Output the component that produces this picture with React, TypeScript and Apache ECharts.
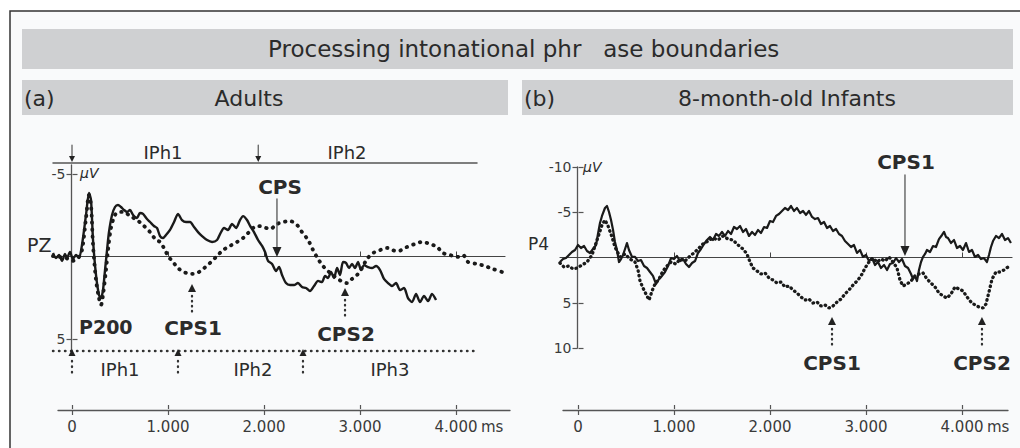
import React, { useEffect, useRef } from "react";
import * as echarts from "echarts";

// ---------------- data ----------------
const timeTicks = [0, 1000, 2000, 3000, 4000];
const timeTickLabels = ["0", "1.000", "2.000", "3.000", "4.000"];
const zeroLineTicks = [1000, 2000, 3000, 4000];
const adultsVoltTicks = [-5, 5];
const infantsVoltTicks = [-10, -5, 5, 10];

// [ms, µV]  (negative up)
const adultsSolid: [number, number][] = [
  [-198, -0.21], [-167, 0.09], [-135, -0.09], [-104, 0.27], [-73, -0.15], [-52, 0.09], [-21, -0.27],
  [10, 0.15], [42, -0.09], [73, 0.09], [104, -0.7], [146, -2.52], [177, -3.85], [198, -3.42],
  [219, -1.0], [250, 1.12], [281, 2.33], [302, 2.52], [323, 2.03], [344, 0.82], [365, -0.39],
  [385, -1.48], [417, -2.52], [448, -3.0], [479, -3.12], [510, -3.0], [542, -2.82], [573, -2.7],
  [604, -2.82], [636, -2.52], [677, -2.33], [708, -2.64], [740, -2.58], [781, -2.27], [813, -2.09],
  [854, -1.85], [885, -1.73], [917, -1.24], [948, -1.12], [979, -1.3], [1021, -1.61], [1063, -2.09],
  [1104, -2.58], [1146, -2.21], [1188, -2.09], [1230, -2.09], [1271, -1.79], [1313, -1.48],
  [1355, -1.24], [1407, -1.0], [1459, -0.88], [1511, -1.0], [1542, -1.36], [1584, -1.73],
  [1625, -1.61], [1667, -1.97], [1709, -1.73], [1750, -2.21], [1782, -2.45], [1823, -2.21],
  [1855, -1.85], [1896, -1.48], [1938, -1.0], [1980, -0.64], [2011, -0.27], [2042, 0.27],
  [2084, 0.45], [2125, 0.88], [2157, 0.64], [2188, 1.12], [2229, 1.61], [2271, 1.73], [2313, 1.73],
  [2354, 1.61], [2396, 1.85], [2438, 1.91], [2479, 2.09], [2521, 1.79], [2563, 1.48], [2604, 1.55],
  [2636, 1.18], [2667, 1.3], [2698, 0.94], [2729, 1.3], [2761, 0.7], [2792, 1.12], [2823, 0.33],
  [2854, 0.39], [2886, 0.7], [2917, 0.45], [2948, 0.7], [2979, 0.33], [3011, 0.82], [3042, 0.52],
  [3084, 0.64], [3125, 0.7], [3167, 0.58], [3209, 0.82], [3250, 1.36], [3292, 1.61], [3334, 1.79],
  [3375, 1.61], [3417, 2.03], [3459, 1.91], [3500, 2.52], [3542, 2.76], [3584, 2.27], [3625, 2.76],
  [3667, 2.39], [3709, 2.7], [3750, 2.27], [3792, 2.64],
];

const adultsDotted: [number, number][] = [
  [-198, -0.03], [-125, 0.03], [-63, 0.09], [0, 0.27], [63, 0.09], [104, -0.39], [146, -2.33],
  [177, -3.73], [198, -3.12], [219, -0.7], [250, 1.42], [281, 2.52], [302, 2.94], [323, 2.33],
  [354, 0.82], [375, -0.39], [406, -1.73], [448, -2.52], [490, -2.7], [542, -2.7], [604, -2.45],
  [677, -2.21], [740, -1.91], [813, -1.48], [875, -1.0], [917, -0.88], [969, -0.39], [1000, -0.03],
  [1052, 0.33], [1104, 0.7], [1167, 0.94], [1230, 1.06], [1302, 1.0], [1365, 0.76], [1438, 0.39],
  [1511, -0.03], [1573, -0.39], [1646, -0.64], [1719, -0.88], [1782, -1.12], [1834, -1.42],
  [1886, -1.73], [1938, -1.85], [1990, -1.79], [2063, -1.67], [2136, -1.97], [2198, -2.09],
  [2271, -2.15], [2344, -1.91], [2396, -1.48], [2459, -1.0], [2511, -0.39], [2563, 0.15],
  [2615, 0.58], [2667, 0.88], [2729, 1.18], [2802, 1.48], [2865, 1.61], [2917, 1.36], [2969, 1.12],
  [3021, 0.7], [3073, 0.15], [3136, -0.21], [3209, -0.39], [3282, -0.52], [3334, -0.39],
  [3396, -0.33], [3490, -0.58], [3573, -0.76], [3646, -0.88], [3729, -0.76], [3802, -0.58],
  [3865, -0.21], [3938, -0.09], [4011, 0.03], [4073, -0.09], [4125, 0.33], [4219, 0.45],
  [4302, 0.58], [4386, 0.76], [4479, 0.94],
];

const infantsSolid: [number, number][] = [
  [-188, 0.5], [-156, 0.17], [-125, 0.06], [-94, -0.28], [-63, -0.61], [-31, -0.83], [0, -1.38],
  [31, -1.05], [63, -1.27], [94, -0.72], [125, -0.5], [156, -0.94], [188, -1.38], [208, -2.6],
  [229, -3.81], [250, -4.59], [281, -5.47], [302, -5.69], [323, -5.03], [344, -4.14], [365, -3.04],
  [385, -1.71], [406, -0.83], [427, 0.5], [448, 0.17], [469, -0.28], [490, -0.94], [510, -1.6],
  [531, -0.83], [563, -0.06], [594, -0.06], [625, 0.39], [656, 0.28], [688, 0.94], [719, 1.16],
  [750, 1.6], [781, 2.04], [813, 2.93], [844, 2.38], [875, 2.04], [906, 1.6], [938, 0.94],
  [969, 0.06], [1000, 0.17], [1031, -0.17], [1063, 0.39], [1094, 0.17], [1125, 0.72], [1156, 1.05],
  [1188, 0.61], [1219, 0.39], [1250, -0.5], [1281, -0.94], [1313, -1.49], [1344, -1.93],
  [1375, -2.27], [1406, -1.93], [1438, -2.6], [1469, -2.38], [1500, -2.82], [1531, -2.38],
  [1563, -2.93], [1594, -2.6], [1625, -3.37], [1656, -3.15], [1688, -3.48], [1719, -2.82],
  [1750, -3.15], [1781, -2.38], [1813, -2.82], [1844, -2.49], [1875, -3.04], [1906, -2.71],
  [1938, -3.37], [1969, -3.26], [2000, -4.03], [2031, -3.92], [2063, -4.59], [2094, -4.81],
  [2125, -5.14], [2156, -5.47], [2188, -5.25], [2219, -5.69], [2250, -5.14], [2281, -5.47],
  [2313, -4.92], [2344, -5.14], [2375, -4.7], [2406, -5.14], [2438, -4.48], [2469, -4.25],
  [2500, -4.36], [2531, -3.7], [2563, -3.92], [2594, -3.26], [2625, -3.48], [2656, -2.93],
  [2688, -3.15], [2719, -2.6], [2750, -2.38], [2781, -1.82], [2813, -1.49], [2844, -1.16],
  [2875, -1.38], [2906, -0.5], [2938, -0.83], [2969, -0.06], [3000, -0.28], [3031, 0.39],
  [3063, 0.06], [3094, 0.83], [3125, 0.5], [3156, 1.16], [3188, 0.83], [3219, 1.38], [3250, 0.72],
  [3281, 0.61], [3313, 0.06], [3344, 0.5], [3375, 0.17], [3406, 0.94], [3438, 1.16], [3469, 1.82],
  [3490, 2.38], [3510, 2.04], [3531, 2.6], [3552, 1.38], [3573, 0.5], [3594, -0.06], [3615, -0.39],
  [3635, -0.83], [3667, -0.61], [3698, -1.27], [3729, -1.16], [3760, -2.04], [3792, -2.49],
  [3813, -2.82], [3833, -2.27], [3854, -2.15], [3885, -1.6], [3917, -1.93], [3948, -1.05],
  [3979, -1.27], [4010, -0.83], [4042, -1.6], [4073, -0.61], [4104, -0.83], [4135, -0.06],
  [4167, -0.28], [4198, 0.17], [4229, 0.06], [4260, 0.5], [4281, -0.28], [4302, -1.16],
  [4323, -1.82], [4354, -2.38], [4385, -2.15], [4417, -2.6], [4448, -1.93], [4479, -2.15],
  [4510, -1.6],
];

const infantsDotted: [number, number][] = [
  [-188, 0.61], [-146, 1.05], [-94, 0.94], [-52, 1.27], [-10, 1.16], [42, 0.83], [94, 0.5],
  [146, -0.28], [198, -1.93], [250, -3.59], [281, -4.14], [313, -3.48], [354, -2.27], [385, -1.16],
  [438, -0.06], [490, -0.39], [542, 0.17], [594, 0.5], [625, 1.38], [646, 2.6], [677, 3.37],
  [708, 4.03], [740, 4.7], [771, 3.7], [802, 2.93], [844, 2.38], [885, 1.49], [927, 0.94],
  [969, 0.5], [1021, 0.72], [1063, 0.17], [1115, 0.39], [1167, -0.17], [1208, -0.5], [1250, -0.94],
  [1302, -1.49], [1354, -1.82], [1406, -2.15], [1458, -1.93], [1510, -2.38], [1563, -2.04],
  [1615, -1.93], [1667, -1.38], [1719, -0.94], [1760, -0.39], [1792, 0.5], [1823, 1.16],
  [1865, 1.49], [1906, 1.82], [1948, 1.71], [1990, 2.27], [2031, 2.49], [2073, 2.82], [2115, 2.71],
  [2156, 3.26], [2198, 3.15], [2240, 3.59], [2281, 3.92], [2323, 4.36], [2365, 4.7], [2406, 4.59],
  [2448, 5.03], [2490, 4.92], [2531, 5.36], [2573, 5.25], [2615, 5.58], [2656, 5.36], [2698, 4.92],
  [2740, 4.59], [2781, 4.03], [2823, 3.59], [2865, 3.04], [2906, 2.6], [2948, 2.04], [2990, 1.16],
  [3031, 0.5], [3073, 0.06], [3115, 0.5], [3156, 0.17], [3198, 0.39], [3240, -0.06], [3281, 0.5],
  [3323, 1.16], [3354, 2.49], [3385, 3.15], [3427, 2.93], [3469, 2.6], [3510, 2.04], [3552, 1.82],
  [3594, 1.71], [3635, 2.38], [3677, 2.82], [3719, 3.26], [3760, 3.92], [3802, 4.25], [3844, 4.48],
  [3885, 4.03], [3927, 3.26], [3969, 3.48], [4010, 3.7], [4052, 4.36], [4094, 4.92], [4135, 5.25],
  [4177, 5.47], [4219, 5.58], [4250, 5.14], [4281, 3.81], [4313, 2.38], [4354, 1.6], [4396, 1.6],
  [4438, 1.38], [4479, 1.05], [4510, 0.94],
];

// annotation times (ms)
const adultsTopBoundaries = [0, 1940];
const adultsTopPhrases = [{ label: "IPh1", t: 948 }, { label: "IPh2", t: 2865 }];
const adultsBottomBoundaries = [0, 1104, 2406];
const adultsBottomPhrases = [{ label: "IPh1", t: 500 }, { label: "IPh2", t: 1885 }, { label: "IPh3", t: 3312 }];

// ---------------- layout ----------------
const FONT = "DejaVu Sans";
const TXT = "#2b2b2b";
const AX = "#555555";
const INK = "#1a1a1a";
const BAND = "#cfd0d2";
const PX_PER_MS = 0.096;
const PA = { x0: 72, y0: 256.5, pxPerUV: 16.5, left: 52, right: 505, top: 165, bottom: 351, axLeft: 58, axRight: 510 };
const PB = { x0: 578, y0: 257.5, pxPerUV: 9.05, left: 560, right: 1012, top: 167, bottom: 348, axLeft: 563, axRight: 1008 };
const AXIS_Y = 410;

type P = typeof PA;
const msAt = (p: P, px: number) => (px - p.x0) / PX_PER_MS;
const uvAt = (p: P, py: number) => (py - p.y0) / p.pxPerUV;
const xOf = (p: P, ms: number) => p.x0 + ms * PX_PER_MS;

function txt(text: string, x: number, y: number, size: number, opts: any = {}) {
  return {
    type: "text",
    x,
    y,
    z: 10,
    style: {
      text,
      fill: opts.fill || TXT,
      fontFamily: FONT,
      fontSize: size,
      fontWeight: opts.bold ? "bold" : "normal",
      fontStyle: opts.italic ? "italic" : "normal",
      align: opts.align || "center",
      verticalAlign: "middle",
    },
  };
}
function ln(x1: number, y1: number, x2: number, y2: number, w: number, dash?: number[]) {
  return {
    type: "line",
    z: 10,
    shape: { x1, y1, x2, y2 },
    style: { stroke: dash ? "#333333" : AX, lineWidth: w, lineDash: dash || null, lineCap: "round" },
  };
}
function tri(x: number, tipY: number, baseY: number, half: number, color = "#222222") {
  return {
    type: "polygon",
    z: 10,
    shape: { points: [[x, tipY], [x - half, baseY], [x + half, baseY]] },
    style: { fill: color },
  };
}

function buildGraphic() {
  const g: any[] = [];
  // frame & bands
  g.push({ type: "rect", z: -10, shape: { x: 10, y: 11, width: 1030, height: 460 }, style: { fill: "#f9fafb", stroke: "#333", lineWidth: 1.5 } });
  g.push({ type: "rect", z: -5, shape: { x: 22, y: 29, width: 991, height: 40 }, style: { fill: BAND } });
  g.push({ type: "rect", z: -5, shape: { x: 22, y: 80, width: 486, height: 35 }, style: { fill: BAND } });
  g.push({ type: "rect", z: -5, shape: { x: 522, y: 80, width: 491, height: 35 }, style: { fill: BAND } });
  g.push(txt("Processing intonational phr   ase boundaries", 268, 49, 23, { align: "left" }));
  g.push(txt("(a)", 24, 98, 22, { align: "left" }));
  g.push(txt("Adults", 249, 98, 22));
  g.push(txt("(b)", 524, 98, 22, { align: "left" }));
  g.push(txt("8-month-old Infants", 787, 98, 22));

  // ---- panel A ----
  const topY = 163;
  g.push(ln(xOf(PA, -198), topY, xOf(PA, 4219), topY, 1.4));
  adultsTopBoundaries.forEach((t) => {
    const x = xOf(PA, t);
    g.push(ln(x, 145, x, 157, 1.2));
    g.push(tri(x, 162, 156, 3));
  });
  adultsTopPhrases.forEach((p) => g.push(txt(p.label, xOf(PA, p.t), 152, 18)));
  const botY = 351;
  g.push(ln(xOf(PA, -198), botY, xOf(PA, 4198), botY, 2.4, [0.5, 5.5]));
  adultsBottomBoundaries.forEach((t) => {
    const x = xOf(PA, t);
    g.push(tri(x, 349, 356, 3.5));
    g.push(ln(x, 361, x, 377, 2.3, [0.5, 5]));
  });
  adultsBottomPhrases.forEach((p) => g.push(txt(p.label, xOf(PA, p.t), 369, 18)));
  g.push(txt("PZ", 27, 245, 19, { align: "left" }));
  g.push(txt("\u03bcV", 80, 173, 14, { align: "left", italic: true }));
  // CPS (solid arrow)
  {
    const x = xOf(PA, 2135);
    g.push(txt("CPS", xOf(PA, 2167), 187, 20, { bold: true }));
    g.push(ln(x, 199, x, 248, 1.3));
    g.push(tri(x, 257, 247, 4.5));
  }
  g.push(txt("P200", 79, 327, 19, { bold: true, align: "left" }));
  // CPS1 / CPS2 dotted arrows
  [{ t: 1250, label: "CPS1", tip: 284, ly: 328 }, { t: 2844, label: "CPS2", tip: 288, ly: 334 }].forEach((a) => {
    const x = xOf(PA, a.t);
    g.push(tri(x, a.tip, a.tip + 8, 4));
    g.push(ln(x, a.tip + 12, x, a.tip + 32, 2.3, [0.5, 4.5]));
    g.push(txt(a.label, x + 1, a.ly, 20, { bold: true }));
  });

  // ---- panel B ----
  g.push(txt("P4", 528, 244, 17, { align: "left" }));
  g.push(txt("\u03bcV", 583, 167, 14, { align: "left", italic: true }));
  {
    const x = xOf(PB, 3406);
    g.push(txt("CPS1", x + 1, 162, 20, { bold: true }));
    g.push(ln(x, 175, x, 247, 1.3));
    g.push(tri(x, 256, 246, 4.5));
  }
  [{ t: 2646, label: "CPS1" }, { t: 4208, label: "CPS2" }].forEach((a) => {
    const x = xOf(PB, a.t);
    g.push(tri(x, 317, 325, 4));
    g.push(ln(x, 329, x, 349, 2.3, [0.5, 4.5]));
    g.push(txt(a.label, x, 363, 20, { bold: true }));
  });

  // "ms" units after the last tick label
  g.push(txt("ms", xOf(PA, 4000) + 25, AXIS_Y + 17, 15, { align: "left", fill: "#3a3a3a" }));
  g.push(txt("ms", xOf(PB, 4000) + 25, AXIS_Y + 17, 15, { align: "left", fill: "#3a3a3a" }));
  return g;
}

function dataGrid(p: P) {
  return { left: p.left, top: p.top, width: p.right - p.left, height: p.bottom - p.top };
}
function yGrid(p: P) {
  return { left: p.x0 - 0.5, top: p.top, width: 1, height: p.bottom - p.top };
}
function xGrid(p: P) {
  return { left: p.axLeft, top: AXIS_Y - 1, width: p.axRight - p.axLeft, height: 1 };
}

const hiddenAxis = (gridIndex: number) => ({ type: "value", gridIndex, show: false, min: 0, max: 1 });

function buildOption() {
  const grids = [dataGrid(PA), yGrid(PA), xGrid(PA), dataGrid(PB), yGrid(PB), xGrid(PB)];
  const xAxes: any[] = [];
  const yAxes: any[] = [];
  [PA, PB].forEach((p, i) => {
    const gi = i * 3;
    const yMin = uvAt(p, p.top);
    const yMax = uvAt(p, p.bottom);
    const ticks = i === 0 ? adultsVoltTicks : infantsVoltTicks;
    // data grid
    xAxes.push({
      type: "value", gridIndex: gi, min: msAt(p, p.left), max: msAt(p, p.right),
      axisLine: { show: true, onZero: true, lineStyle: { color: "#444", width: 1.2 } },
      axisTick: { show: true, inside: true, length: 5, customValues: zeroLineTicks, lineStyle: { color: "#444" } },
      axisLabel: { show: false }, splitLine: { show: false },
    });
    yAxes.push({ type: "value", gridIndex: gi, show: false, inverse: true, min: yMin, max: yMax, axisLine: { onZero: false } });
    // y-axis helper grid
    xAxes.push(hiddenAxis(gi + 1));
    yAxes.push({
      type: "value", gridIndex: gi + 1, position: "left", inverse: true, min: yMin, max: yMax,
      axisLine: { show: true, onZero: false, lineStyle: { color: AX, width: 1.3 } },
      axisTick: { show: true, length: 5, customValues: ticks, lineStyle: { color: AX, width: 1.2 } },
      axisLabel: { show: true, customValues: ticks, formatter: (v: number) => String(v), color: "#3a3a3a", fontFamily: FONT, fontSize: 14, margin: 6 },
      splitLine: { show: false },
    });
    yAxes.push({
      type: "value", gridIndex: gi + 1, position: "right", inverse: true, min: yMin, max: yMax,
      axisLine: { show: false, onZero: false },
      axisTick: { show: true, length: 5, customValues: ticks, lineStyle: { color: AX, width: 1.2 } },
      axisLabel: { show: false }, splitLine: { show: false },
    });
    // x-axis helper grid
    yAxes.push(hiddenAxis(gi + 2));
    const xMin = msAt(p, p.axLeft);
    const xMax = msAt(p, p.axRight);
    xAxes.push({
      type: "value", gridIndex: gi + 2, position: "bottom", min: xMin, max: xMax,
      axisLine: { show: true, onZero: false, lineStyle: { color: AX, width: 1.3 } },
      axisTick: { show: true, length: 5, customValues: timeTicks, lineStyle: { color: AX, width: 1.2 } },
      axisLabel: {
        show: true, customValues: timeTicks, margin: 9, color: "#3a3a3a", fontFamily: FONT, fontSize: 15,
        formatter: (v: number) => timeTickLabels[timeTicks.indexOf(Math.round(v))] ?? "",
      },
      splitLine: { show: false },
    });
    xAxes.push({
      type: "value", gridIndex: gi + 2, position: "top", min: xMin, max: xMax,
      axisLine: { show: false, onZero: false },
      axisTick: { show: true, length: 4, customValues: timeTicks, lineStyle: { color: AX, width: 1.2 } },
      axisLabel: { show: false }, splitLine: { show: false },
    });
  });
  // axis indices: panel A data x=0, y=0 ; panel B data x=4, y=4
  const solid = (data: any, xi: number, w: number, smooth: number) => ({
    type: "line", xAxisIndex: xi, yAxisIndex: xi, data, showSymbol: false, symbol: "none", clip: false,
    smooth, lineStyle: { color: INK, width: w, join: "round" }, z: 5,
  });
  const dotted = (data: any, xi: number, w: number, gap: number, smooth: number) => ({
    type: "line", xAxisIndex: xi, yAxisIndex: xi, data, showSymbol: false, symbol: "none", clip: false,
    smooth, lineStyle: { color: INK, width: w, type: [0.5, gap], cap: "round" }, z: 4,
  });
  return {
    animation: false,
    backgroundColor: "#ffffff",
    grid: grids,
    xAxis: xAxes,
    yAxis: yAxes,
    series: [
      dotted(adultsDotted, 0, 3.8, 6.5, 0.3),
      solid(adultsSolid, 0, 2.4, 0.25),
      dotted(infantsDotted, 4, 3.3, 4.2, 0),
      solid(infantsSolid, 4, 2.2, 0),
    ],
    graphic: { elements: buildGraphic() },
  };
}

export default function App() {
  const ref = useRef<HTMLDivElement>(null);
  useEffect(() => {
    if (!ref.current) return;
    const chart = echarts.init(ref.current, null, { renderer: "svg" });
    chart.setOption(buildOption() as any);
    return () => chart.dispose();
  }, []);
  return <div ref={ref} style={{ position: "absolute", left: 0, top: 0, width: 1020, height: 448 }} />;
}
